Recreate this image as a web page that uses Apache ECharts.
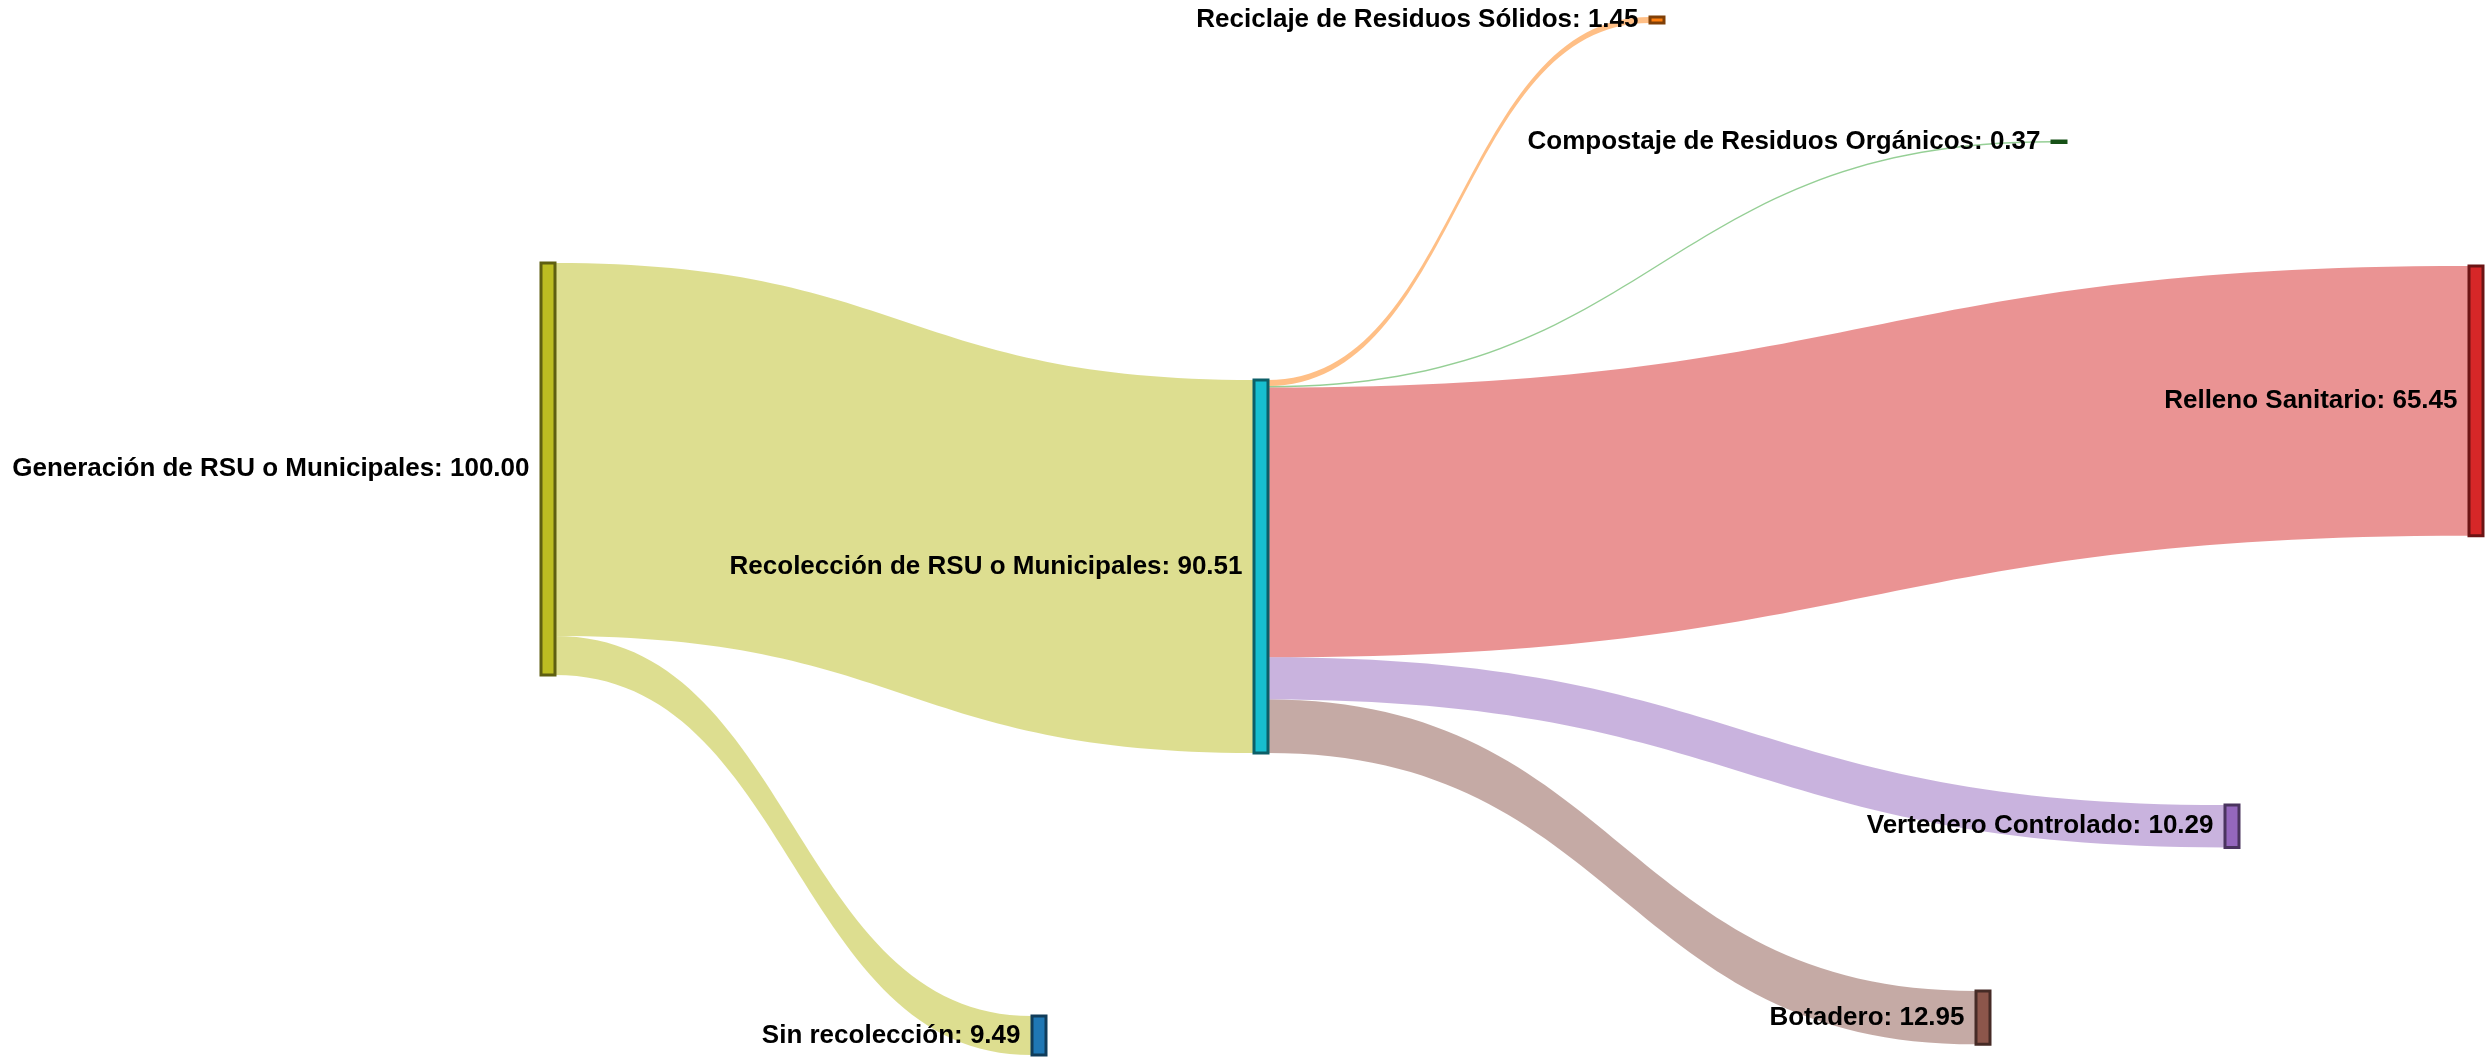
<!DOCTYPE html>
<html>
<head>
<meta charset="utf-8">
<script src="https://cdn.jsdelivr.net/npm/echarts@6/dist/echarts.min.js"></script>
<style>
  html, body { margin: 0; padding: 0; background: #fff; }
  #main { width: 2486px; height: 1060px; }
</style>
</head>
<body>
<div id="main"></div>
<script>
// nodes
const nodeNames = [
    'Generación de RSU o Municipales',
    'Recolección de RSU o Municipales',
    'Sin recolección',
    'Reciclaje de Residuos Sólidos',
    'Compostaje de Residuos Orgánicos',
    'Relleno Sanitario',
    'Vertedero Controlado',
    'Botadero'
];
const nodeColors = ['#bcbd22', '#17becf', '#1f77b4', '#ff7f0e', '#2ca02c', '#d62728', '#9467bd', '#8c564b'];

// flows
const linkSources = [0, 0, 1, 1, 1, 1, 1];
const linkTargets = [1, 2, 3, 4, 5, 6, 7];
const linkValues = [90.51, 9.49, 1.45, 0.37, 65.45, 10.29, 12.95];
// colour of each flow taken from node index
const linkColorFrom = [0, 0, 3, 4, 5, 6, 7];

// node placement (pixels, like the reference layout)
const nodeLeftPx = [541, 1254, 1032, 1650, 2052, 2469, 2225, 1976];
const nodeTopPx = [263, 380, 1016, 17, 141, 266, 805, 991];

const W = 2486;
const H = 412; // box height -> 100 units ~ 412px

function darken(hex, f) {
    const n = parseInt(hex.slice(1), 16);
    const r = Math.round(((n >> 16) & 255) * f);
    const g = Math.round(((n >> 8) & 255) * f);
    const b = Math.round((n & 255) * f);
    return 'rgb(' + r + ',' + g + ',' + b + ')';
}

var nodes = nodeNames.map(function (name, i) {
    return {
        name: name,
        localX: nodeLeftPx[i] / W,
        localY: nodeTopPx[i] / H,
        itemStyle: {
            color: nodeColors[i],
            borderColor: darken(nodeColors[i], 0.5),
            borderWidth: 3
        }
    };
});

var links = linkValues.map(function (v, i) {
    return {
        source: nodeNames[linkSources[i]],
        target: nodeNames[linkTargets[i]],
        value: v,
        lineStyle: {
            color: nodeColors[linkColorFrom[i]],
            opacity: 0.5
        }
    };
});

var myChart = echarts.init(document.getElementById('main'));
var option = {
    backgroundColor: '#fff',
    animation: false,
    series: [{
        type: 'sankey',
        left: 0,
        top: 0,
        width: W,
        height: H,
        nodeWidth: 14,
        nodeGap: 0,
        layoutIterations: 0,
        draggable: false,
        emphasis: { disabled: true },
        label: {
            show: true,
            position: 'left',
            distance: 10,
            color: '#000',
            fontFamily: 'Liberation Sans, Arial, sans-serif',
            fontWeight: 'bold',
            fontSize: 26,
            formatter: function (p) {
                return p.name + ': ' + Number(p.value).toFixed(2);
            }
        },
        lineStyle: {
            curveness: 0.5
        },
        data: nodes,
        links: links
    }]
};
option && myChart.setOption(option);
</script>
</body>
</html>
